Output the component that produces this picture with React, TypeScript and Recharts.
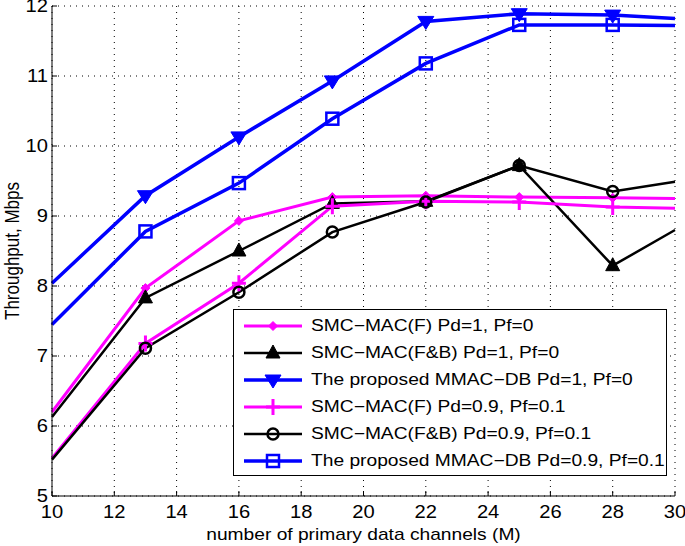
import { LineChart, Line, XAxis, YAxis, CartesianGrid, Legend } from 'recharts';

const channels = [10, 13, 16, 19, 22, 25, 28, 30];
const fPd1 = [6.2, 7.97, 8.93, 9.27, 9.29, 9.27, 9.26, 9.25];
const fbPd1 = [6.13, 7.83, 8.5, 9.18, 9.21, 9.72, 8.29, 8.8];
const mmacPd1 = [8.04, 9.29, 10.13, 10.93, 11.78, 11.89, 11.87, 11.82];
const fPd09 = [5.54, 7.18, 8.04, 9.14, 9.21, 9.2, 9.13, 9.11];
const fbPd09 = [5.52, 7.11, 7.91, 8.77, 9.2, 9.72, 9.35, 9.49];
const mmacPd09 = [7.45, 8.78, 9.47, 10.39, 11.18, 11.73, 11.73, 11.72];

const xTicks = [10, 12, 14, 16, 18, 20, 22, 24, 26, 28, 30];
const yTicks = [5, 6, 7, 8, 9, 10, 11, 12];

const data = channels.map((m, i) => ({
  m,
  fPd1: fPd1[i],
  fbPd1: fbPd1[i],
  mmacPd1: mmacPd1[i],
  fPd09: fPd09[i],
  fbPd09: fbPd09[i],
  mmacPd09: mmacPd09[i],
}));

const FONT = '"Liberation Sans", Arial, sans-serif';
const MAGENTA = '#ff00ff';
const BLUE = '#0000ff';
const BLACK = '#000000';
// the figure is stretched sideways, so horizontal text is wider than it is tall
const STRETCH = 1.2;
const TICK_STRETCH = 1.12;

type Kind = 'diamond' | 'triUp' | 'triDown' | 'plus' | 'circle' | 'square';

function Marker({ kind, cx, cy }: { kind: Kind; cx: number; cy: number }) {
  switch (kind) {
    case 'diamond':
      return <path d={`M${cx},${cy - 4.5}L${cx + 4.5},${cy}L${cx},${cy + 4.5}L${cx - 4.5},${cy}Z`} fill={MAGENTA} stroke={MAGENTA} strokeWidth={1} />;
    case 'triUp':
      return <path d={`M${cx},${cy - 8}L${cx + 7},${cy + 5}L${cx - 7},${cy + 5}Z`} fill={BLACK} stroke={BLACK} strokeWidth={1} />;
    case 'triDown':
      return <path d={`M${cx},${cy + 8}L${cx + 8},${cy - 5}L${cx - 8},${cy - 5}Z`} fill={BLUE} stroke={BLUE} strokeWidth={1} />;
    case 'plus':
      return <path d={`M${cx - 7},${cy}H${cx + 7}M${cx},${cy - 8}V${cy + 8}`} stroke={MAGENTA} strokeWidth={3} fill="none" />;
    case 'circle':
      return <circle cx={cx} cy={cy} r={5.5} fill="none" stroke={BLACK} strokeWidth={2.5} />;
    case 'square':
      return <rect x={cx - 6} y={cy - 6} width={12} height={12} fill="none" stroke={BLUE} strokeWidth={2.5} />;
  }
}

const dotFor = (kind: Kind) => (props: any) => {
  const { cx, cy, index } = props;
  if (index === 0 || index === channels.length - 1) return <g key={`d${index}`} />;
  return (
    <g key={`d${index}`}>
      <Marker kind={kind} cx={cx} cy={cy} />
    </g>
  );
};

const series: { key: string; name: string; color: string; width: number; kind: Kind }[] = [
  { key: 'fPd1', name: 'SMC\u2212MAC(F) Pd=1, Pf=0', color: MAGENTA, width: 3, kind: 'diamond' },
  { key: 'fbPd1', name: 'SMC\u2212MAC(F&B) Pd=1, Pf=0', color: BLACK, width: 2.5, kind: 'triUp' },
  { key: 'mmacPd1', name: 'The proposed MMAC\u2212DB Pd=1, Pf=0', color: BLUE, width: 3.5, kind: 'triDown' },
  { key: 'fPd09', name: 'SMC\u2212MAC(F) Pd=0.9, Pf=0.1', color: MAGENTA, width: 3, kind: 'plus' },
  { key: 'fbPd09', name: 'SMC\u2212MAC(F&B) Pd=0.9, Pf=0.1', color: BLACK, width: 2.5, kind: 'circle' },
  { key: 'mmacPd09', name: 'The proposed MMAC\u2212DB Pd=0.9, Pf=0.1', color: BLUE, width: 3.5, kind: 'square' },
];

function LegendBox() {
  return (
    <div
      style={{
        border: '1px solid #000',
        background: '#fff',
        boxSizing: 'border-box',
        width: 434,
        height: 167,
        padding: '2px 0 0 10px',
        fontFamily: FONT,
        fontSize: 16,
        color: '#000',
      }}
    >
      {series.map((s) => (
        <div key={s.key} style={{ display: 'flex', alignItems: 'center', height: 27 }}>
          <svg width={60} height={24} style={{ flex: 'none' }}>
            <line x1={0} y1={12} x2={58} y2={12} stroke={s.color} strokeWidth={s.width} />
            <Marker kind={s.kind} cx={29} cy={12} />
          </svg>
          <span
            style={{
              marginLeft: 7,
              whiteSpace: 'nowrap',
              display: 'inline-block',
              transform: `scaleX(${STRETCH})`,
              transformOrigin: 'left center',
            }}
          >
            {s.name}
          </span>
        </div>
      ))}
    </div>
  );
}

function XTick(props: any) {
  const { x, y, payload } = props;
  return (
    <text
      transform={`translate(${x},${y}) scale(${TICK_STRETCH},1)`}
      textAnchor="middle"
      dy="0.71em"
      fill="#000"
      fontSize={18}
      fontFamily={FONT}
    >
      {payload.value}
    </text>
  );
}

function YTick(props: any) {
  const { x, y, payload } = props;
  return (
    <text
      transform={`translate(${x},${y}) scale(${TICK_STRETCH},1)`}
      textAnchor="end"
      dy="0.36em"
      fill="#000"
      fontSize={18}
      fontFamily={FONT}
    >
      {payload.value}
    </text>
  );
}

function XLabel(props: any) {
  const { x, y, width, height } = props.viewBox;
  return (
    <text
      transform={`translate(${x + width / 2},${y + height - 6}) scale(${STRETCH},1)`}
      textAnchor="middle"
      fill="#000"
      fontSize={16}
      fontFamily={FONT}
    >
      number of primary data channels (M)
    </text>
  );
}

function YLabel(props: any) {
  const { x, y, height } = props.viewBox;
  return (
    <text
      transform={`translate(${x + 12},${y + height / 2}) rotate(-90) scale(1,${STRETCH})`}
      textAnchor="middle"
      dy="0.36em"
      fill="#000"
      fontSize={17}
      fontFamily={FONT}
      textLength={138}
      lengthAdjust="spacingAndGlyphs"
    >
      Throughput, Mbps
    </text>
  );
}

export default function App() {
  return (
    <div style={{ position: 'absolute', left: 0, top: 0, background: '#fff' }}>
      <LineChart width={685} height={546} data={data} margin={{ top: 6, right: 10, bottom: 0, left: 0 }}>
        <CartesianGrid stroke="#000" strokeDasharray="1 5" strokeWidth={1} />
        <XAxis
          dataKey="m"
          type="number"
          domain={[10, 30]}
          ticks={xTicks}
          interval={0}
          height={50}
          tickSize={-5}
          tickMargin={14}
          stroke="#000"
          tick={<XTick />}
          label={<XLabel />}
        />
        <XAxis
          xAxisId="top"
          orientation="top"
          dataKey="m"
          type="number"
          domain={[10, 30]}
          ticks={xTicks}
          interval={0}
          height={0}
          tickSize={-5}
          stroke="#000"
          tickFormatter={() => ''}
        />
        <YAxis
          type="number"
          domain={[5, 12]}
          ticks={yTicks}
          interval={0}
          width={52}
          tickSize={-5}
          tickMargin={9}
          stroke="#000"
          tick={<YTick />}
          label={<YLabel />}
        />
        <YAxis
          yAxisId="right"
          orientation="right"
          type="number"
          domain={[5, 12]}
          ticks={yTicks}
          interval={0}
          width={0}
          tickSize={-5}
          stroke="#000"
          tickFormatter={() => ''}
        />
        {series.map((s) => (
          <Line
            key={s.key}
            type="linear"
            dataKey={s.key}
            name={s.name}
            stroke={s.color}
            strokeWidth={s.width}
            dot={dotFor(s.kind)}
            activeDot={false}
            isAnimationActive={false}
          />
        ))}
        <Legend
          layout="horizontal"
          verticalAlign="middle"
          align="center"
          content={() => <LegendBox />}
          wrapperStyle={{ left: 233, top: 309, width: 434, height: 167 }}
        />
      </LineChart>
    </div>
  );
}
